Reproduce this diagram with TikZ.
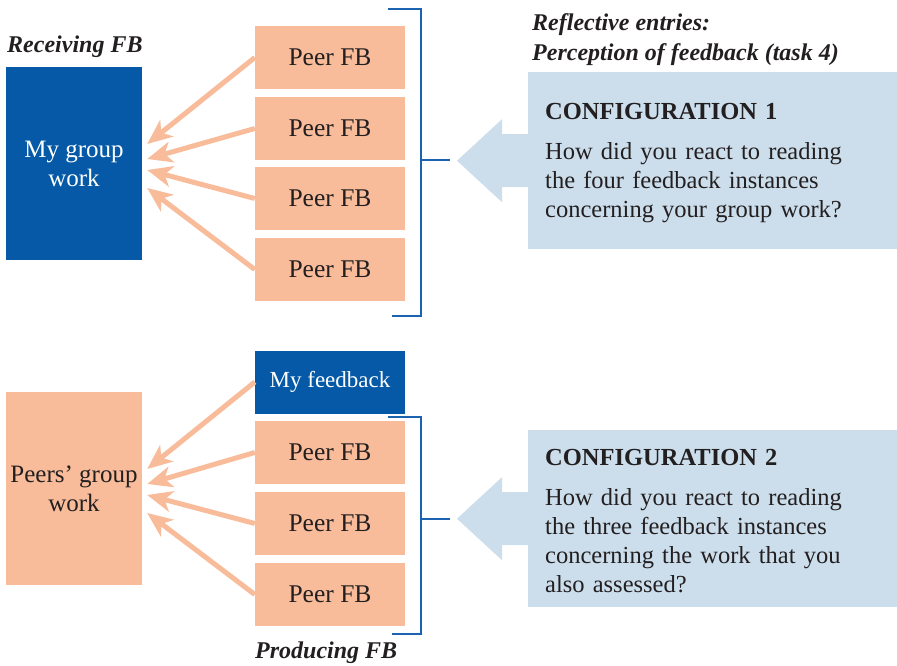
\documentclass[tikz,border=0pt]{standalone}
\usepackage{fontspec}
\setmainfont{Liberation Serif}
\usetikzlibrary{arrows.meta}

\definecolor{darkblue}{HTML}{0559A6}
\definecolor{peach}{HTML}{F8BC9A}
\definecolor{paleblue}{HTML}{CCDEEC}
\definecolor{bracketblue}{HTML}{1B63B0}
\definecolor{inkblack}{HTML}{231F20}

\tikzstyle{peerbox} = [fill=peach, text=inkblack, minimum width=150pt,
    minimum height=63pt, inner sep=0pt, font=\fontsize{25.5}{29}\selectfont]
\tikzstyle{ownbox} = [peerbox, fill=darkblue, text=white,
    font=\fontsize{23}{29}\selectfont]
\tikzstyle{workbox} = [minimum width=136pt, minimum height=193pt, inner sep=0pt,
    align=center, font=\fontsize{25}{29}\selectfont]
\tikzstyle{fbarrow} = [draw=peach, line width=5pt,
    -{Stealth[length=25pt, width=21pt, inset=7pt]}]
\tikzstyle{heading} = [font=\fontsize{24}{29}\selectfont\bfseries\itshape,
    text=inkblack, inner sep=0pt, anchor=base west]
\tikzstyle{configbox} = [fill=paleblue, text=inkblack, anchor=north west,
    minimum width=369pt, minimum height=177pt, text width=335pt, inner xsep=17pt,
    align=left, font=\fontsize{24.5}{29}\selectfont]
\tikzstyle{bracket} = [draw=bracketblue, line width=2.7pt]

\begin{document}
\begin{tikzpicture}[x=1pt, y=-1pt]
\useasboundingbox (0,0) rectangle (897,666);

\node[heading] (recv) at (7,53) {Receiving FB};
\node[workbox, fill=darkblue, text=white] (mywork) at (74,163.5) {My group\\work};
\foreach \i/\y in {1/57.5, 2/128.5, 3/198.5, 4/269.5}
    \node[peerbox] (peer\i) at (330,\y) {Peer FB};
\foreach \i/\s in {1/19.5, 2/4.5, 3/-6.5, 4/-24.5}
    \draw[fbarrow] (peer\i.west) -- ([xshift=5pt, yshift=\s pt]mywork.east);
\draw[bracket] (388,9) -| (421,316) -- (392,316);
\draw[bracket] (421,160) -- (450,160);

\node[heading] (reflect) at (532,31) {Reflective entries:};
\node[heading] (percept) at (532,61) {Perception of feedback (task 4)};
\node[configbox] (cfg1) at (528,72) {\textbf{CONFIGURATION 1}\\[11pt]
    How did you react to reading\\ the four feedback instances\\
    concerning your group work?\vspace{-4pt}};
\fill[paleblue] ([xshift=-71pt]cfg1.west) -- ++(45,-41.5) -- ++(0,15) -- ++(28,0)
    -- ++(0,53) -- ++(-28,0) -- ++(0,15) -- cycle;

\node[workbox, fill=peach, text=inkblack] (peerswork) at (74,488.5) {Peers' group\\work};
\node[ownbox] (myfb) at (330,382) {My feedback};
\foreach \i/\y in {5/452.5, 6/523.5, 7/594.5}
    \node[peerbox] (peer\i) at (330,\y) {Peer FB};
\foreach \n/\s in {myfb/19.5, peer5/4.5, peer6/-6.5, peer7/-24.5}
    \draw[fbarrow] (\n.west) -- ([xshift=5pt, yshift=\s pt]peerswork.east);
\draw[bracket] (388,417) -| (421,634) -- (392,634);
\draw[bracket] (421,519) -- (450,519);
\node[heading] (produce) at (255,658) {Producing FB};

\node[configbox] (cfg2) at (528,430) {\textbf{CONFIGURATION 2}\\[11pt]
    How did you react to reading\\ the three feedback instances\\
    concerning the work that you\\ also assessed?\vspace{-4pt}};
\fill[paleblue] ([xshift=-71pt]cfg2.west) -- ++(45,-41.5) -- ++(0,15) -- ++(28,0)
    -- ++(0,53) -- ++(-28,0) -- ++(0,15) -- cycle;
\end{tikzpicture}
\end{document}
